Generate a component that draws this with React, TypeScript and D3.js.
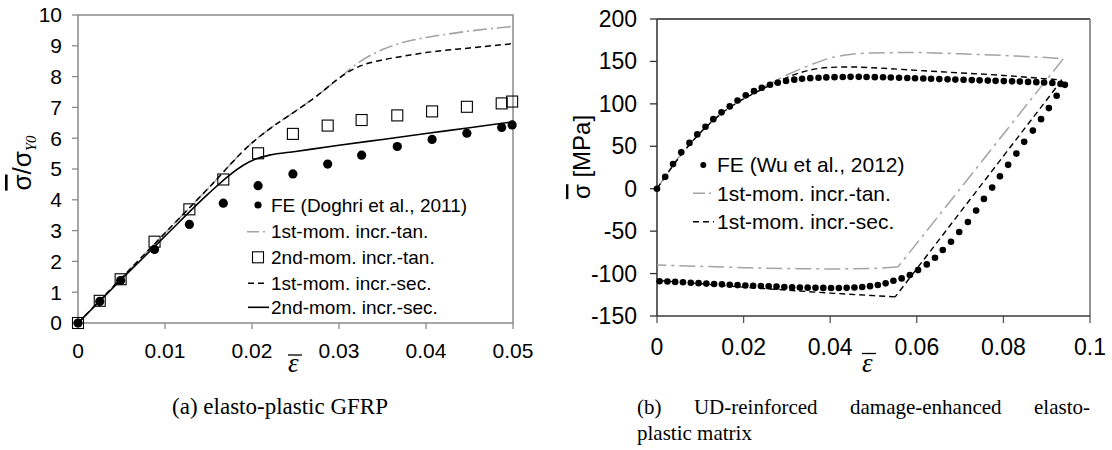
import React from "react";
import * as d3 from "d3";

// ---------- Left panel (a) data ----------
const leftMarkE = [0, 0.0025, 0.0049, 0.0088, 0.0128, 0.0167, 0.0207, 0.0247, 0.0287, 0.0326, 0.0367, 0.0407, 0.0447, 0.0487, 0.0499];
const leftFE = [0, 0.7, 1.38, 2.39, 3.2, 3.89, 4.46, 4.84, 5.16, 5.45, 5.73, 5.96, 6.16, 6.35, 6.43];
const left2ndTan = [0, 0.72, 1.42, 2.64, 3.69, 4.66, 5.51, 6.14, 6.41, 6.59, 6.74, 6.87, 7.02, 7.13, 7.19];

const left1stTanE = [0, 0.01, 0.015, 0.02, 0.0225, 0.025, 0.0275, 0.03, 0.0325, 0.035, 0.0375, 0.04, 0.0425, 0.045, 0.0475, 0.05];
const left1stTan = [0, 2.92, 4.38, 5.85, 6.4, 6.88, 7.38, 7.95, 8.5, 8.88, 9.12, 9.27, 9.38, 9.48, 9.56, 9.63];

const left1stSecE = [0, 0.01, 0.015, 0.02, 0.0225, 0.025, 0.0275, 0.03, 0.0315, 0.033, 0.035, 0.0375, 0.04, 0.045, 0.05];
const left1stSec = [0, 2.92, 4.38, 5.85, 6.4, 6.88, 7.38, 7.95, 8.22, 8.4, 8.54, 8.67, 8.78, 8.93, 9.07];

const left2ndSecE = [0, 0.005, 0.01, 0.015, 0.0175, 0.019, 0.0205, 0.022, 0.025, 0.03, 0.035, 0.04, 0.045, 0.05];
const left2ndSec = [0, 1.42, 2.82, 4.2, 4.82, 5.12, 5.33, 5.45, 5.57, 5.77, 5.96, 6.15, 6.34, 6.53];

const leftXTicks = [0, 0.01, 0.02, 0.03, 0.04, 0.05];
const leftXLabels = ["0", "0.01", "0.02", "0.03", "0.04", "0.05"];
const leftYTicks = [0, 1, 2, 3, 4, 5, 6, 7, 8, 9, 10];
const leftYLabels = ["0", "1", "2", "3", "4", "5", "6", "7", "8", "9", "10"];
const leftLegend = ["FE (Doghri et al., 2011)", "1st-mom. incr.-tan.", "2nd-mom. incr.-tan.", "1st-mom. incr.-sec.", "2nd-mom. incr.-sec."];

// ---------- Right panel (b) data ----------
// FE dots: loading branch
const feLoadE = [0, 0.0019, 0.0037, 0.0056, 0.0075, 0.0093, 0.0112, 0.013, 0.0149, 0.0168, 0.0186, 0.0205, 0.0224, 0.0242, 0.0261, 0.0279, 0.0298, 0.0317, 0.0335, 0.0354, 0.0373, 0.0391, 0.041, 0.0429, 0.0447, 0.0466, 0.0484, 0.0503, 0.0522, 0.054, 0.0559, 0.0578, 0.0596, 0.0615, 0.0633, 0.0652, 0.0671, 0.0689, 0.0708, 0.0727, 0.0745, 0.0764, 0.0782, 0.0801, 0.082, 0.0838, 0.0857, 0.0876, 0.0894, 0.0913, 0.0932, 0.0942];
const feLoad = [0, 14, 29, 43, 54, 64, 73, 82, 90, 97, 104, 110, 115, 119, 122.5, 125, 127, 128.5, 129.5, 130.3, 130.8, 131.2, 131.5, 131.7, 131.8, 131.8, 131.7, 131.5, 131.3, 131, 130.7, 130.4, 130.1, 129.8, 129.5, 129.2, 128.9, 128.6, 128.3, 128, 127.7, 127.4, 127.1, 126.8, 126.5, 126.2, 125.9, 125.6, 125.2, 124.5, 123.5, 122.4];
// FE dots: unloading branch
const feUnloadE = [0.0923, 0.0905, 0.0887, 0.0868, 0.0848, 0.083, 0.0811, 0.0792, 0.0774, 0.0755, 0.0737, 0.0718, 0.0698, 0.0679, 0.066, 0.0642, 0.0623, 0.0603, 0.0584, 0.0565];
const feUnload = [109.5, 95, 82, 68.5, 55.2, 41.4, 28.1, 14.6, 1.3, -12, -25.8, -39.2, -51, -62.5, -72.3, -81.4, -89.2, -95.9, -101.8, -105.7];
// FE dots: reverse plastic branch
const feRevE = [0.0546, 0.0528, 0.051, 0.0492, 0.0474, 0.0456, 0.0438, 0.042, 0.0402, 0.0384, 0.0366, 0.0348, 0.033, 0.0312, 0.0294, 0.0276, 0.0258, 0.024, 0.0222, 0.0204, 0.0186, 0.0168, 0.015, 0.0132, 0.0114, 0.0096, 0.0078, 0.006, 0.0042, 0.0024, 0.0006];
const feRev = [-108.5, -111.5, -113.5, -114.8, -115.8, -116.4, -116.8, -117, -117, -116.9, -116.8, -116.6, -116.4, -116.1, -115.8, -115.4, -115, -114.7, -114.4, -114, -113.6, -113.1, -112.7, -112.3, -111.8, -111.3, -110.8, -110.3, -109.8, -109.4, -109];

// 1st-mom. incr.-tan. (grey dash-dot)
const tanLoadE = [0, 0.005, 0.01, 0.015, 0.02, 0.025, 0.03, 0.035, 0.04, 0.045, 0.05, 0.06, 0.07, 0.08, 0.09, 0.0938];
const tanLoad = [0, 37, 66, 89, 106, 121, 134, 145, 154, 158.5, 160, 160.5, 159, 157, 154.5, 153];
const tanUnloadE = [0.0938, 0.0557];
const tanUnload = [153, -92];
const tanRevE = [0.0557, 0.05, 0.04, 0.03, 0.02, 0.01, 0];
const tanRev = [-92, -94, -94.5, -94, -93, -91.5, -90];

// 1st-mom. incr.-sec. (black dashed)
const secLoadE = [0, 0.005, 0.01, 0.015, 0.02, 0.025, 0.03, 0.035, 0.04, 0.045, 0.05, 0.06, 0.07, 0.08, 0.09, 0.0935];
const secLoad = [0, 36, 66, 89, 106, 119, 131, 139.5, 143, 143.5, 142.5, 139.5, 136.5, 133.5, 129.5, 128];
const secUnloadE = [0.0935, 0.055];
const secUnload = [128, -127.5];
const secRevE = [0.055, 0.05, 0.04, 0.03, 0.02, 0.01, 0];
const secRev = [-127.5, -126, -123, -119.5, -116, -112, -108];

const rightXTicks = [0, 0.02, 0.04, 0.06, 0.08, 0.1];
const rightXLabels = ["0", "0.02", "0.04", "0.06", "0.08", "0.1"];
const rightYTicks = [-150, -100, -50, 0, 50, 100, 150, 200];
const rightYLabels = ["-150", "-100", "-50", "0", "50", "100", "150", "200"];
const rightLegend = ["FE (Wu et al., 2012)", "1st-mom. incr.-tan.", "1st-mom. incr.-sec."];

const captionA = "(a) elasto-plastic GFRP";
const captionBWords = ["(b)", "UD-reinforced", "damage-enhanced", "elasto-"];
const captionB2 = "plastic matrix";

const SANS = "'Liberation Sans', Arial, sans-serif";
const SERIF = "'Liberation Serif', 'Times New Roman', serif";
const GREY = "#a3a3a3";

function zip(xs: number[], ys: number[]): [number, number][] {
  return xs.map((x, i) => [x, ys[i]]);
}

function measure(text: string, font: string): number {
  const c = document.createElement("canvas");
  const ctx = c.getContext("2d");
  if (!ctx) return text.length * 10;
  ctx.font = font;
  return ctx.measureText(text).width;
}

export default function App() {
  // scales
  const lx = d3.scaleLinear().domain([0, 0.05]).range([78, 513]);
  const ly = d3.scaleLinear().domain([0, 10]).range([323, 15]);
  const rx = d3.scaleLinear().domain([0, 0.1]).range([657, 1090]);
  const ry = d3.scaleLinear().domain([-150, 200]).range([316, 19]);

  const lLine = d3.line<[number, number]>().x((d) => lx(d[0])).y((d) => ly(d[1])).curve(d3.curveMonotoneX);
  const rLineC = d3.line<[number, number]>().x((d) => rx(d[0])).y((d) => ry(d[1])).curve(d3.curveMonotoneX);
  const rLineL = d3.line<[number, number]>().x((d) => rx(d[0])).y((d) => ry(d[1]));

  const tanPath = (rLineC(zip(tanLoadE, tanLoad)) || "") + (rLineL(zip(tanUnloadE, tanUnload)) || "") + (rLineC(zip(tanRevE, tanRev)) || "");
  const secPath = (rLineC(zip(secLoadE, secLoad)) || "") + (rLineL(zip(secUnloadE, secUnload)) || "") + (rLineC(zip(secRevE, secRev)) || "");

  const feAll = [...zip(feLoadE, feLoad), ...zip(feUnloadE, feUnload), ...zip(feRevE, feRev)];

  // caption (b) justified
  const capSize = 21;
  const capFont = capSize + "px 'Liberation Serif'";
  const wordsW = captionBWords.map((w) => measure(w, capFont));
  const capX0 = 637, capX1 = 1090;
  const gap = (capX1 - capX0 - wordsW.reduce((a, b) => a + b, 0)) / (captionBWords.length - 1);
  const wordX: number[] = [];
  let acc = capX0;
  wordsW.forEach((w) => { wordX.push(acc); acc += w + gap; });

  const leftFrame = "#8a8a8a";

  return (
    <div style={{ position: "absolute", left: 0, top: 0 }}>
      <svg width={1112} height={450} style={{ display: "block", background: "#fff" }}>
        {/* ================= LEFT PANEL ================= */}
        <g>
          <rect x={lx(0)} y={ly(10)} width={lx(0.05) - lx(0)} height={ly(0) - ly(10)} fill="none" stroke={leftFrame} strokeWidth={1.5} />
          {leftYTicks.map((t, i) => (
            <g key={"ly" + t}>
              <line x1={lx(0) - 6} x2={lx(0)} y1={ly(t)} y2={ly(t)} stroke={leftFrame} strokeWidth={1.3} />
              <text x={62} y={ly(t)} dy="0.35em" textAnchor="end" fontFamily={SANS} fontSize={21}>{leftYLabels[i]}</text>
            </g>
          ))}
          {leftXTicks.map((t, i) => (
            <g key={"lx" + t}>
              <line x1={lx(t)} x2={lx(t)} y1={ly(0)} y2={ly(0) + 6} stroke={leftFrame} strokeWidth={1.3} />
              <text x={lx(t)} y={358} textAnchor="middle" fontFamily={SANS} fontSize={21}>{leftXLabels[i]}</text>
            </g>
          ))}
          {/* x label */}
          <text x={288} y={372} fontFamily={SERIF} fontStyle="italic" fontSize={27}>ε</text>
          <line x1={288} x2={302} y1={355} y2={355} stroke="#000" strokeWidth={1.3} />
          {/* y label */}
          <g transform="translate(31,163) rotate(-90)">
            <text x={0} y={0} textAnchor="middle" fontFamily={SANS} fontSize={26}>
              <tspan style={{ textDecoration: "overline" }}>σ</tspan>
              <tspan>/σ</tspan>
              <tspan fontFamily={SERIF} fontStyle="italic" fontSize={15} dy={5}>Y0</tspan>
            </text>
          </g>

          {/* lines */}
          <path d={lLine(zip(left1stTanE, left1stTan)) || ""} fill="none" stroke={GREY} strokeWidth={1.6} strokeDasharray="14,4,2,4" />
          <path d={lLine(zip(left1stSecE, left1stSec)) || ""} fill="none" stroke="#000" strokeWidth={1.5} strokeDasharray="6,4" />
          <path d={lLine(zip(left2ndSecE, left2ndSec)) || ""} fill="none" stroke="#000" strokeWidth={1.6} />
          {leftMarkE.map((e, i) => (
            <rect key={"sq" + i} x={lx(e) - 5.5} y={ly(left2ndTan[i]) - 5.5} width={11} height={11} fill="none" stroke="#000" strokeWidth={1.1} />
          ))}
          {leftMarkE.map((e, i) => (
            <circle key={"c" + i} cx={lx(e)} cy={ly(leftFE[i])} r={4.6} fill="#000" />
          ))}

          {/* legend */}
          <g fontFamily={SANS} fontSize={19}>
            <circle cx={258} cy={205} r={3.6} fill="#000" />
            <line x1={247} x2={269} y1={231.7} y2={231.7} stroke={GREY} strokeWidth={1.6} strokeDasharray="12,4,2,4" />
            <rect x={252.5} y={251.8} width={11} height={11} fill="none" stroke="#000" strokeWidth={1.1} />
            <line x1={248} x2={268} y1={283.3} y2={283.3} stroke="#000" strokeWidth={1.5} strokeDasharray="6,4" />
            <line x1={248} x2={269} y1={307.3} y2={307.3} stroke="#000" strokeWidth={1.6} />
            {leftLegend.map((s, i) => (
              <text key={"lt" + i} x={271} y={[205, 231.7, 257.3, 283.3, 307.3][i]} dy="0.35em">{s}</text>
            ))}
          </g>
        </g>

        {/* ================= RIGHT PANEL ================= */}
        <g>
          {rightYTicks.map((t, i) => (
            <g key={"ry" + t}>
              <line x1={rx(0) - 7} x2={rx(0)} y1={ry(t)} y2={ry(t)} stroke="#333" strokeWidth={1.3} />
              <text x={637} y={ry(t)} dy="0.35em" textAnchor="end" fontFamily={SANS} fontSize={23}>{rightYLabels[i]}</text>
            </g>
          ))}
          {rightXTicks.map((t, i) => (
            <g key={"rx" + t}>
              <line x1={rx(t)} x2={rx(t)} y1={ry(-150)} y2={ry(-150) + 7} stroke="#555" strokeWidth={1.3} />
              <text x={rx(t)} y={355} textAnchor="middle" fontFamily={SANS} fontSize={23}>{rightXLabels[i]}</text>
            </g>
          ))}
          <line x1={rx(0)} x2={rx(0.1)} y1={ry(200)} y2={ry(200)} stroke="#222" strokeWidth={1.3} />
          <line x1={rx(0.1)} x2={rx(0.1)} y1={ry(200)} y2={ry(-150)} stroke="#7a7a7a" strokeWidth={1.6} />
          <line x1={rx(0)} x2={rx(0.1)} y1={ry(-150)} y2={ry(-150)} stroke="#3a3a3a" strokeWidth={1.6} />
          <line x1={rx(0)} x2={rx(0)} y1={ry(200)} y2={ry(-150)} stroke="#3a3a3a" strokeWidth={1.6} />

          {/* x label */}
          <text x={862} y={371.5} fontFamily={SERIF} fontStyle="italic" fontSize={27}>ε</text>
          <line x1={862} x2={876} y1={353.5} y2={353.5} stroke="#000" strokeWidth={1.3} />
          {/* y label */}
          <g transform="translate(590,157) rotate(-90)">
            <text x={0} y={0} textAnchor="middle" fontFamily={SANS} fontSize={24}>
              <tspan style={{ textDecoration: "overline" }}>σ</tspan>
              <tspan> [MPa]</tspan>
            </text>
          </g>

          <path d={tanPath} fill="none" stroke={GREY} strokeWidth={1.5} strokeDasharray="16,5,3,5" />
          <path d={secPath} fill="none" stroke="#000" strokeWidth={1.4} strokeDasharray="6,4" />
          {feAll.map((d, i) => (
            <circle key={"fe" + i} cx={rx(d[0])} cy={ry(d[1])} r={3.3} fill="#000" />
          ))}

          {/* legend */}
          <g fontFamily={SANS} fontSize={21}>
            <circle cx={703.3} cy={165} r={3} fill="#000" />
            <line x1={693} x2={714} y1={193.3} y2={193.3} stroke={GREY} strokeWidth={1.5} strokeDasharray="12,4,2,4" />
            <line x1={693} x2={714} y1={221.7} y2={221.7} stroke="#000" strokeWidth={1.4} strokeDasharray="6,4" />
            {rightLegend.map((s, i) => (
              <text key={"rt" + i} x={717} y={[165, 193.3, 221.7][i]} dy="0.35em">{s}</text>
            ))}
          </g>
        </g>

        {/* ================= CAPTIONS ================= */}
        <g fontFamily={SERIF} fontSize={capSize}>
          <text x={280} y={414} textAnchor="middle" fontSize={23}>{captionA}</text>
          {captionBWords.map((w, i) => (
            <text key={"cb" + i} x={wordX[i]} y={414}>{w}</text>
          ))}
          <text x={637} y={440}>{captionB2}</text>
        </g>
      </svg>
    </div>
  );
}
